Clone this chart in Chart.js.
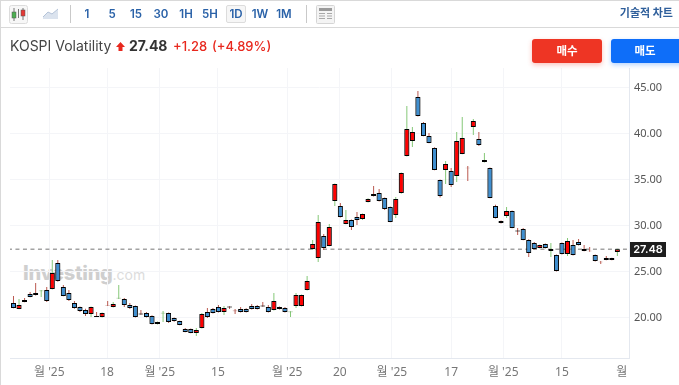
<!DOCTYPE html>
<html lang="ko">
<head>
<meta charset="utf-8">
<title>KOSPI Volatility</title>
<script src="https://cdn.jsdelivr.net/npm/chart.js@4/dist/chart.umd.min.js"></script>
<style>
html, body { margin: 0; padding: 0; background: #fff; }
#page { position: relative; width: 679px; height: 385px; overflow: hidden; font-family: Inter, "Noto Sans CJK KR", sans-serif; }
#page > * { position: absolute; }
#chart { left: 0; top: 0; z-index: 2; }
#leftEdge { left: 0; top: 0; width: 1px; height: 385px; background: #d9d9d9; }
#bar { left: 0; top: 0; width: 679px; border-top: 1px solid #d9d9d9; border-bottom: 1px solid #d9d9d9; box-sizing: border-box; height: 28px; }
.iv { top: 5px; width: 20px; height: 18px; line-height: 18px; text-align: center; font-size: 11.5px; font-weight: 600; color: #2a62a8; z-index: 3; }
.iv.on { border: 1px solid #dcdcdc; border-radius: 2px; background: #f6f6f6; box-sizing: border-box; line-height: 16px; }
.sep { top: 5px; width: 1px; height: 18px; background: #c9c9c9; z-index: 3; }
.ic { z-index: 3; }
#tech { right: 6px; top: 4px; font-size: 11px; font-weight: 700; color: #2f5f9b; line-height: 18px; z-index: 3; }
#name { left: 10px; top: 37px; font-size: 14px; color: #444; line-height: 18px; z-index: 3; }
#last { left: 129px; top: 37px; font-size: 14px; font-weight: 700; color: #333; line-height: 18px; z-index: 3; }
#chg { left: 173px; top: 37px; font-size: 13px; font-weight: 500; color: #e8281e; line-height: 18px; z-index: 3; }
#pct { left: 212px; top: 37px; font-size: 13px; font-weight: 500; color: #e8281e; line-height: 18px; z-index: 3; }
.btn { top: 39px; height: 24px; line-height: 24px; text-align: center; color: #fff; font-size: 11.5px; font-weight: 700; border-radius: 3px; z-index: 3; box-sizing: border-box; }
#buy { left: 532px; width: 70px; background: #ee3524; box-shadow: 0 2px 5px rgba(238,53,36,.3); }
#sell { left: 611px; width: 76px; padding-right: 8px; background: #0e6ef9; box-shadow: 0 2px 5px rgba(14,110,249,.3); }
#mark { left: 23px; top: 259px; font-size: 20px; font-weight: 800; letter-spacing: -0.3px; color: #cfcfcf; line-height: 28px; white-space: nowrap; z-index: 1; }
#mark span { font-size: 14px; font-weight: 400; letter-spacing: 0; color: #dcdcdc; }
</style>
</head>
<body>
<div id="page">
  <div id="leftEdge"></div>
  <div id="bar"></div>
  <svg class="ic" style="left:9px;top:5px" width="19" height="19" viewBox="0 0 19 19">
    <rect x="0.5" y="0.5" width="18" height="18" rx="2" fill="#f7f7f7" stroke="#dcdcdc"/>
    <path d="M5 3V16M14 3V15M9.5 4V13" stroke="#777" fill="none"/>
    <rect x="3" y="7" width="4" height="6" fill="#4caf50" stroke="#555" stroke-width=".5"/>
    <rect x="12" y="5" width="4" height="6" fill="#e53935" stroke="#555" stroke-width=".5"/>
  </svg>
  <svg class="ic" style="left:43px;top:8px" width="16" height="12" viewBox="0 0 16 12">
    <path d="M0 9L5 4L9 6L15 1V11H0Z" fill="#dbe3ee"/><path d="M0 9L5 4L9 6L15 1" fill="none" stroke="#b4c3d8"/>
  </svg>
  <div class="sep" style="left:70px"></div>
  <div class="iv" style="left:77px">1</div>
  <div class="iv" style="left:102px">5</div>
  <div class="iv" style="left:126px">15</div>
  <div class="iv" style="left:151px">30</div>
  <div class="iv" style="left:176px">1H</div>
  <div class="iv" style="left:200px">5H</div>
  <div class="iv on" style="left:226px">1D</div>
  <div class="iv" style="left:250px">1W</div>
  <div class="iv" style="left:274px">1M</div>
  <div class="sep" style="left:306px"></div>
  <svg class="ic" style="left:316px;top:5px" width="19" height="19" viewBox="0 0 19 19">
    <rect x="0.5" y="0.5" width="18" height="18" rx="1" fill="#f4f4f4" stroke="#d5d5d5"/>
    <rect x="3" y="3" width="13" height="3" fill="#9a9a9a"/>
    <path d="M3 8.5H9M3 11H9M3 13.5H9M11 8.5H16M11 11H16M11 13.5H16" stroke="#a8a8a8"/>
  </svg>
  <div id="tech">기술적 차트</div>
  <div id="name">KOSPI Volatility</div>
  <svg class="ic" style="left:116px;top:42px" width="9" height="9" viewBox="0 0 9 9"><path d="M4.5 0L9 5H6.5V9H2.5V5H0Z" fill="#e8281e"/></svg>
  <div id="last">27.48</div>
  <div id="chg">+1.28</div>
  <div id="pct">(+4.89%)</div>
  <div class="btn" id="buy">매수</div>
  <div class="btn" id="sell">매도</div>
  <div id="mark">Investing<span>.com</span></div>
  <canvas id="chart" width="679" height="385"></canvas>
</div>

<script>
// Candle values, oldest first
const opens = [21.63,20.98,21.96,22.61,22.72,22.90,23.04,23.15,25.98,23.37,22.72,21.63,21.20,20.87,20.43,20.22,20.11,21.42,21.20,22.12,
  22.07,21.41,21.30,20.48,20.54,20.22,19.35,20.50,20.54,20.00,19.67,18.80,18.80,18.37,18.91,20.65,20.98,21.20,20.65,21.25,
  20.80,20.98,20.98,21.30,21.30,21.35,21.20,20.87,21.20,21.09,20.62,21.30,21.30,23.04,27.50,26.52,28.91,27.83,32.72,32.17,
  30.22,30.65,30.98,30.76,32.61,33.48,33.59,33.04,32.07,31.20,33.59,37.61,39.24,44.02,41.20,39.78,38.48,35.00,36.09,35.98,
  35.44,37.83,36.33,40.76,39.46,36.96,36.30,32.17,30.54,31.09,31.63,29.50,29.67,28.48,28.15,27.61,28.04,27.28,26.85,28.15,
  26.96,27.93,28.26,27.50,27.30,26.85,26.12,26.52,26.52,27.17];
const highs = [22.39,22.07,22.17,22.83,23.80,23.04,23.37,26.30,26.30,23.59,23.04,21.85,21.25,21.00,21.25,20.65,20.60,21.85,21.74,23.59,
  22.17,21.63,21.35,20.87,20.65,20.30,19.62,20.76,20.60,20.05,19.70,18.91,18.85,18.91,20.54,21.09,21.09,21.41,21.30,21.28,
  20.98,21.20,21.05,21.52,21.41,21.74,21.41,22.72,21.25,21.20,20.72,22.72,22.55,24.57,28.48,31.20,29.13,30.22,34.62,32.50,
  31.74,30.70,31.52,31.35,33.00,34.35,34.02,33.10,32.12,33.15,35.80,43.04,40.76,44.67,41.30,40.11,38.55,35.05,37.07,36.30,
  40.22,41.85,36.52,41.63,40.22,37.93,36.35,32.30,30.60,32.07,31.68,29.78,29.78,28.55,28.26,27.98,28.10,28.15,26.90,28.20,
  28.70,28.48,28.59,27.93,27.72,26.90,26.20,26.74,26.55,27.52];
const lows = [21.05,20.95,21.70,22.25,22.45,22.28,21.74,23.10,23.95,22.35,21.85,21.00,20.65,20.22,20.11,20.10,20.05,21.30,21.15,22.07,
  21.20,20.98,20.05,20.35,20.05,19.30,19.30,19.57,19.45,19.60,19.20,18.45,18.35,18.04,18.85,20.00,20.50,20.60,20.33,20.98,
  20.43,20.60,20.60,20.93,20.93,21.22,20.60,20.80,20.93,20.60,20.11,21.09,21.25,23.00,27.39,26.09,27.39,27.80,32.17,30.93,
  30.18,29.57,30.11,30.65,32.55,33.20,32.65,31.74,30.40,30.87,33.50,37.55,38.59,41.90,39.75,38.98,36.05,33.10,34.57,34.24,
  34.78,37.80,34.89,39.89,38.70,36.90,33.00,30.80,30.28,30.87,29.75,29.02,28.45,26.63,27.45,27.55,27.55,26.63,25.05,26.90,
  26.74,26.80,27.88,27.25,27.20,26.15,25.87,26.28,26.28,26.74];
const closes = [21.09,21.41,21.74,22.28,22.50,22.98,21.85,24.89,24.02,22.39,21.96,21.09,20.76,20.43,21.20,20.11,20.54,21.36,21.52,22.20,
  21.41,21.09,20.11,20.38,20.11,19.35,19.57,20.58,19.57,19.67,19.24,18.48,18.37,18.70,20.43,20.11,20.54,20.65,21.09,21.15,
  20.74,20.65,20.65,20.98,20.98,21.25,20.65,21.85,20.98,20.65,20.70,22.50,22.50,24.02,28.04,30.43,27.61,29.89,34.57,30.98,
  30.65,29.89,30.65,31.30,32.93,33.26,32.72,31.85,30.43,32.93,35.76,40.54,40.22,41.96,39.78,39.02,36.09,33.26,36.74,34.46,
  39.24,39.57,36.27,41.41,38.80,37.17,33.04,30.87,30.33,31.63,29.78,29.40,28.48,27.07,27.50,27.93,27.61,27.50,25.11,26.96,
  28.37,26.85,27.93,27.28,27.24,26.20,26.06,26.30,26.30,27.48];

const lastPrice = 27.48;
const priceTicks = [20, 25, 30, 35, 40, 45];
// x axis labels sit between sessions at month starts, so they are given in candle slots
const dateSlots = [6.46, 16.9, 26.4, 36.9, 49.4, 58.9, 68.3, 79, 88.4, 99, 109.8];
const dateLabels = ["월 '25", "18", "월 '25", "15", "월 '25", "20", "월 '25", "17", "월 '25", "15", "월"];

const UP = '#ff0000', DOWN = '#3f8fd0', WICK_UP = '#86c878', WICK_DOWN = '#bb5a50';
const DOJI = 0.09;

const isUp = i => closes[i] > opens[i];
const isDoji = i => Math.abs(closes[i] - opens[i]) < DOJI;

const wickData = highs.map((h, i) => ({ x: i, y: [lows[i], h] }));
const bodyData = opens.map((o, i) => ({ x: i, y: [o, closes[i]] }));

// bodies carry a soft grey edge in the reference
const bodyHalo = {
    id: 'bodyHalo',
    beforeDatasetDraw(chart, args) {
        if (args.index !== 2) return;
        chart.ctx.save();
        chart.ctx.shadowColor = 'rgba(0,0,0,0.7)';
        chart.ctx.shadowBlur = 3;
    },
    afterDatasetDraw(chart, args) {
        if (args.index === 2) chart.ctx.restore();
    }
};

// black price box on the right axis
const priceTag = {
    id: 'priceTag',
    afterDraw(chart) {
        const ctx = chart.ctx;
        const y = Math.round(chart.scales.y.getPixelForValue(lastPrice));
        ctx.save();
        ctx.fillStyle = '#1e1e1e';
        ctx.fillRect(630, y - 7, 36, 15);
        ctx.fillStyle = '#fff';
        ctx.font = '600 11px Inter, sans-serif';
        ctx.textAlign = 'center';
        ctx.textBaseline = 'middle';
        ctx.fillText(lastPrice.toFixed(2), 648, y + 0.5);
        ctx.restore();
    }
};

new Chart(document.getElementById('chart').getContext('2d'), {
    type: 'bar',
    data: {
        datasets: [
            {
                type: 'line',
                data: [{ x: -1, y: lastPrice }, { x: 112, y: lastPrice }],
                borderColor: '#a3a3a3',
                borderWidth: 1.5,
                borderDash: [4, 3.5],
                pointRadius: 0,
                order: 3
            },
            {
                data: wickData,
                grouped: false,
                barThickness: 1,
                backgroundColor: wickData.map((d, i) => isUp(i) ? WICK_UP : WICK_DOWN),
                borderWidth: 0,
                borderSkipped: false,
                inflateAmount: 0,
                order: 2
            },
            {
                data: bodyData,
                grouped: false,
                barThickness: 5,
                backgroundColor: bodyData.map((d, i) => isDoji(i) ? (isUp(i) ? WICK_UP : WICK_DOWN) : (isUp(i) ? UP : DOWN)),
                borderColor: bodyData.map((d, i) => isDoji(i) ? (isUp(i) ? WICK_UP : WICK_DOWN) : '#000'),
                borderWidth: 1,
                borderSkipped: false,
                inflateAmount: 0,
                order: 1
            }
        ]
    },
    options: {
        responsive: false,
        animation: false,
        layout: { padding: { left: 10, top: 68, right: 0, bottom: 0 } },
        plugins: { legend: { display: false }, tooltip: { enabled: false } },
        scales: {
            x: {
                type: 'linear',
                offset: false,
                min: -0.63,
                max: 111.1,
                afterFit: s => { s.height = 27; },
                afterBuildTicks: s => { s.ticks = dateSlots.map(v => ({ value: v })); },
                grid: {
                    drawTicks: false,
                    offset: false,
                    color: c => c.index === dateSlots.length - 1 ? 'transparent' : '#f4f5f8'
                },
                border: { color: '#e4e8ef' },
                ticks: {
                    autoSkip: false,
                    maxRotation: 0,
                    padding: 7,
                    color: '#777',
                    font: { family: '"Noto Sans", "Noto Sans CJK KR", sans-serif', size: 12 },
                    callback: (v, i) => dateLabels[i]
                }
            },
            y: {
                position: 'right',
                min: 15.65,
                max: 47.17,
                afterFit: s => { s.width = 50; },
                afterBuildTicks: s => { s.ticks = priceTicks.map(v => ({ value: v })); },
                grid: { drawTicks: false, color: '#f4f5f8' },
                border: { color: '#e4e8ef' },
                ticks: {
                    padding: 5,
                    color: '#555',
                    font: { family: '"Noto Sans", sans-serif', size: 11 },
                    callback: v => v.toFixed(2)
                }
            }
        }
    },
    plugins: [bodyHalo, priceTag]
});
</script>
</body>
</html>
